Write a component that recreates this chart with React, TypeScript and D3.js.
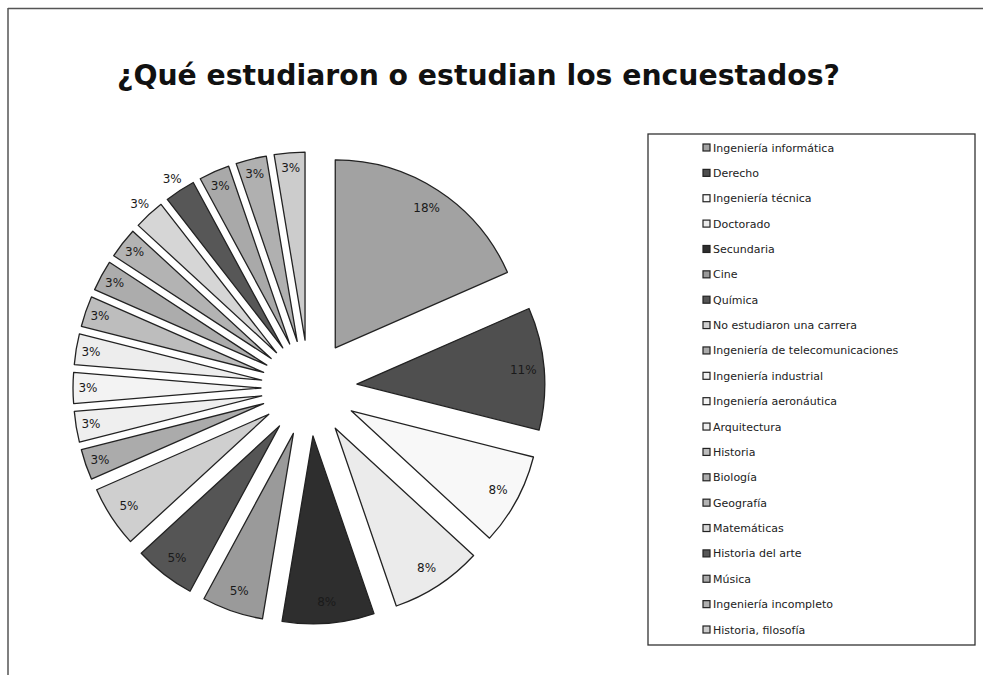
import React from "react";
import * as d3 from "d3";

const categories = [
  "Ingeniería informática",
  "Derecho",
  "Ingeniería técnica",
  "Doctorado",
  "Secundaria",
  "Cine",
  "Química",
  "No estudiaron una carrera",
  "Ingeniería de telecomunicaciones",
  "Ingeniería industrial",
  "Ingeniería aeronáutica",
  "Arquitectura",
  "Historia",
  "Biología",
  "Geografía",
  "Matemáticas",
  "Historia del arte",
  "Música",
  "Ingeniería incompleto",
  "Historia, filosofía",
];
const counts = [7, 4, 3, 3, 3, 2, 2, 2, 1, 1, 1, 1, 1, 1, 1, 1, 1, 1, 1, 1];
const percentLabels = ["18%", "11%", "8%", "8%", "8%", "5%", "5%", "5%", "3%", "3%", "3%", "3%", "3%", "3%", "3%", "3%", "3%", "3%", "3%", "3%"];
const colors = [
  "#a2a2a2", "#4f4f4f", "#f8f8f8", "#ebebeb", "#2e2e2e", "#9a9a9a", "#555555", "#cfcfcf",
  "#ababab", "#efefef", "#f3f3f3", "#ededed", "#bdbdbd", "#acacac", "#b3b3b3", "#d6d6d6",
  "#575757", "#a9a9a9", "#b0b0b0", "#cccccc",
];
const outsideLabel = [false, false, false, false, false, false, false, false, false, false, false, false, false, false, false, true, true, false, false, false];

const W = 983;
const H = 675;
const cx = 309;
const cy = 388;
const R = 188;
const explode = 48;

export default function App() {
  const pie = d3.pie<number>().sort(null).value((d) => d).startAngle(0).endAngle(2 * Math.PI);
  const arcs = pie(counts);
  const arcGen = d3.arc<d3.PieArcDatum<number>>().innerRadius(0).outerRadius(R);

  const legendX = 648;
  const legendY = 134;
  const legendW = 327;
  const legendH = 511;
  const rowY = d3.scaleLinear().domain([0, categories.length - 1]).range([148, 630]);

  return (
    <svg width={W} height={H} style={{ position: "absolute", left: 0, top: 0, background: "#fff" }}>
      <rect x={0} y={0} width={W} height={H} fill="#fff" />
      <line x1={8} y1={8.5} x2={W} y2={8.5} stroke="#555" strokeWidth={1.5} />
      <line x1={8} y1={8} x2={8} y2={H} stroke="#555" strokeWidth={1.5} />
      <text
        x={117}
        y={85}
        fontFamily="'DejaVu Sans Condensed', 'DejaVu Sans', sans-serif"
        fontWeight="bold"
        fontSize={28}
        fill="#111"
        textLength={723}
        lengthAdjust="spacingAndGlyphs"
      >
        ¿Qué estudiaron o estudian los encuestados?
      </text>
      <g>
        {arcs.map((a, i) => {
          const mid = (a.startAngle + a.endAngle) / 2;
          const dx = Math.sin(mid) * explode;
          const dy = -Math.cos(mid) * explode;
          return (
            <path
              key={i}
              d={arcGen(a) || ""}
              transform={`translate(${cx + dx},${cy + dy})`}
              fill={colors[i]}
              stroke="#222"
              strokeWidth={1.3}
              strokeLinejoin="round"
            />
          );
        })}
        {arcs.map((a, i) => {
          const mid = (a.startAngle + a.endAngle) / 2;
          const dist = outsideLabel[i] ? 250 : explode + (i < 8 ? 167 : 173);
          const x = cx + Math.sin(mid) * dist;
          const y = cy - Math.cos(mid) * dist;
          return (
            <text
              key={"l" + i}
              x={x}
              y={y}
              textAnchor="middle"
              dominantBaseline="central"
              fontFamily="'DejaVu Sans', Verdana, sans-serif"
              fontSize={12}
              fill="#1a1a1a"
            >
              {percentLabels[i]}
            </text>
          );
        })}
      </g>
      <rect x={legendX} y={legendY} width={legendW} height={legendH} fill="#fff" stroke="#333" strokeWidth={1.3} />
      {categories.map((c, i) => (
        <g key={"lg" + i}>
          <rect x={703} y={rowY(i) - 4} width={7} height={7} fill={colors[i]} stroke="#222" strokeWidth={1.2} />
          <text
            x={713}
            y={rowY(i)}
            dominantBaseline="central"
            fontFamily="'DejaVu Sans', Verdana, sans-serif"
            fontSize={11}
            fill="#222"
          >
            {c}
          </text>
        </g>
      ))}
    </svg>
  );
}
